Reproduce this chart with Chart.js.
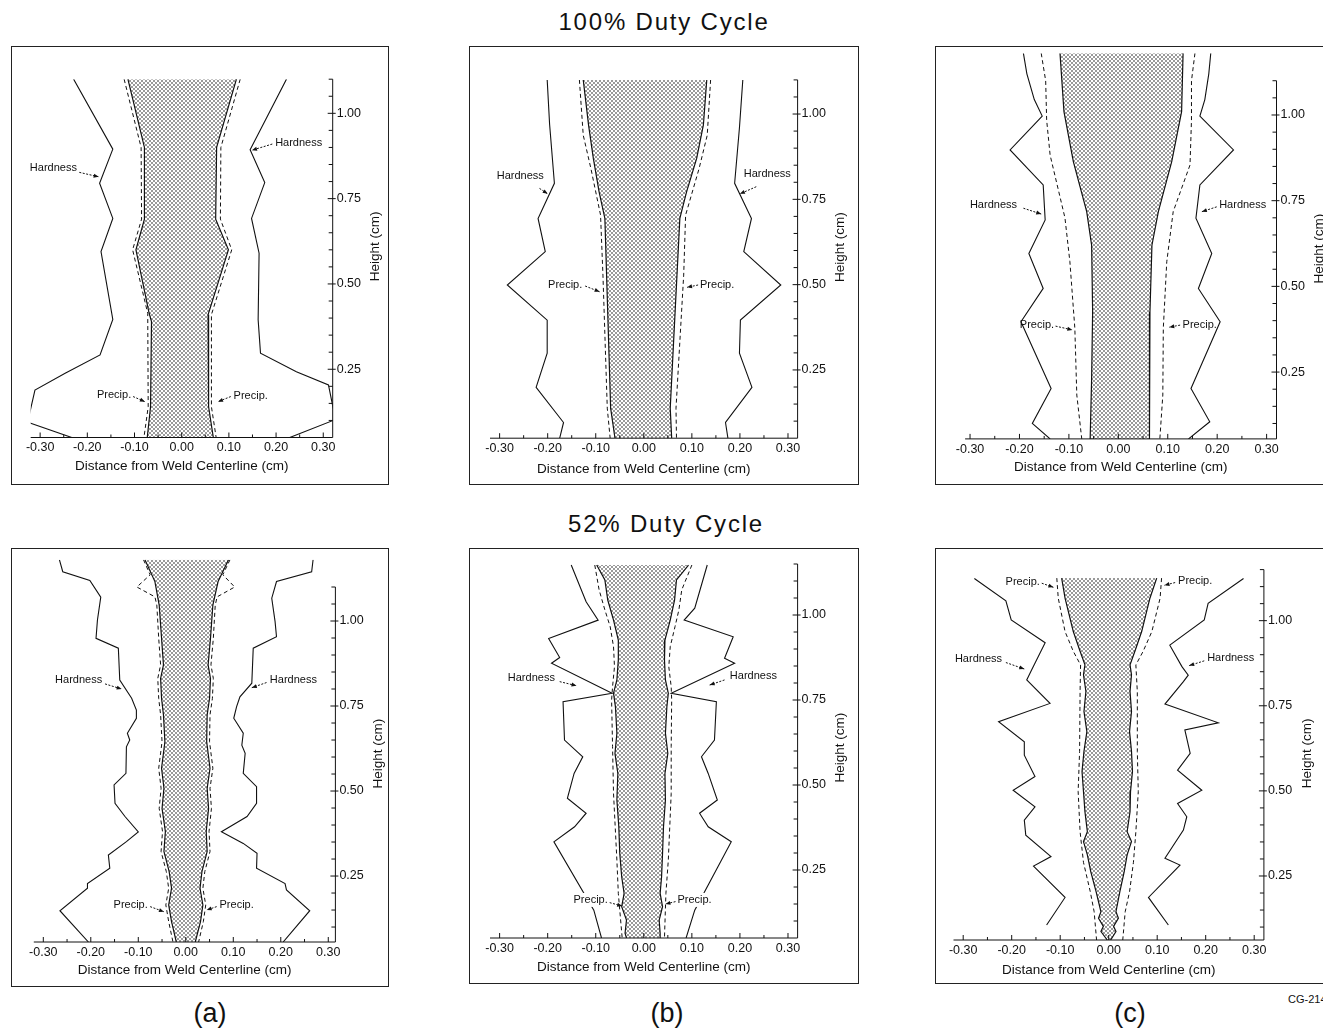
<!DOCTYPE html>
<html>
<head>
<meta charset="utf-8">
<script src="https://cdn.jsdelivr.net/npm/chart.js"></script>
<style>
html,body{margin:0;padding:0;background:#fff;}
body{width:1323px;height:1036px;position:relative;overflow:hidden;font-family:"Liberation Sans",Arial,sans-serif;color:#111;}
.box{position:absolute;border:1px solid #222;box-sizing:border-box;}
.plot{position:absolute;}
.txt{position:absolute;white-space:nowrap;transform:translate(-50%,-50%);}
</style>
</head>
<body>
<div class="txt" style="left:664px;top:22px;font-size:24px;letter-spacing:1.8px">100% Duty Cycle</div>
<div class="txt" style="left:666px;top:524px;font-size:24px;letter-spacing:1.8px">52% Duty Cycle</div>
<div class="txt" style="left:210px;top:1013px;font-size:27px">(a)</div>
<div class="txt" style="left:667px;top:1013px;font-size:27px">(b)</div>
<div class="txt" style="left:1130px;top:1013px;font-size:27px">(c)</div>
<div style="position:absolute;left:1288px;top:993px;font-size:11px;white-space:nowrap">CG-2140</div>

<script>
// ==== tick labels ====
const xTickVals = [-0.30, -0.20, -0.10, 0.00, 0.10, 0.20, 0.30];
const yTickVals = [0.25, 0.50, 0.75, 1.00];

// ==== data: [distance from centerline (cm), height (cm)] ====
// (a) 100% duty cycle
const aTopHardL = [[-0.229,1.10],[-0.146,0.895],[-0.174,0.795],[-0.146,0.692],[-0.171,0.595],[-0.146,0.396],[-0.173,0.292],[-0.247,0.238],[-0.311,0.189],[-0.323,0.116],[-0.345,0.104],[-0.320,0.092],[-0.233,0.05]];
const aTopHardR = [[0.222,1.10],[0.145,0.893],[0.176,0.797],[0.148,0.692],[0.164,0.590],[0.162,0.395],[0.167,0.297],[0.243,0.243],[0.311,0.204],[0.321,0.136],[0.340,0.118],[0.321,0.100],[0.229,0.05]];
const aTopFusL = [[-0.114,1.10],[-0.079,0.90],[-0.079,0.69],[-0.097,0.60],[-0.069,0.414],[-0.064,0.39],[-0.066,0.14],[-0.073,0.05]];
const aTopFusR = [[0.116,1.10],[0.074,0.90],[0.072,0.69],[0.099,0.60],[0.056,0.41],[0.057,0.14],[0.067,0.05]];
const aTopPrecL = [[-0.122,1.10],[-0.086,0.90],[-0.085,0.69],[-0.104,0.60],[-0.072,0.414],[-0.071,0.14],[-0.080,0.05]];
const aTopPrecR = [[0.124,1.10],[0.083,0.90],[0.082,0.69],[0.106,0.60],[0.063,0.41],[0.063,0.14],[0.073,0.05]];

// (b) 100% duty cycle
const bTopHardL = [[-0.201,1.10],[-0.196,0.97],[-0.186,0.797],[-0.220,0.694],[-0.205,0.597],[-0.284,0.499],[-0.201,0.396],[-0.201,0.299],[-0.224,0.199],[-0.167,0.096],[-0.175,0.05]];
const bTopHardR = [[0.206,1.10],[0.199,0.96],[0.189,0.797],[0.224,0.694],[0.208,0.597],[0.285,0.499],[0.201,0.396],[0.199,0.299],[0.225,0.199],[0.170,0.096],[0.175,0.05]];
const bTopFusL = [[-0.126,1.10],[-0.115,0.968],[-0.105,0.87],[-0.093,0.772],[-0.081,0.694],[-0.069,0.138],[-0.060,0.05]];
const bTopFusR = [[0.131,1.10],[0.124,0.968],[0.110,0.87],[0.089,0.772],[0.075,0.694],[0.055,0.138],[0.058,0.05]];
const bTopPrecL = [[-0.134,1.10],[-0.126,0.938],[-0.110,0.84],[-0.090,0.704],[-0.085,0.528],[-0.076,0.138],[-0.070,0.05]];
const bTopPrecR = [[0.139,1.10],[0.132,0.938],[0.115,0.84],[0.087,0.704],[0.083,0.528],[0.067,0.138],[0.068,0.05]];

// (c) 100% duty cycle
const cTopHardL = [[-0.192,1.18],[-0.185,1.12],[-0.170,1.045],[-0.154,0.997],[-0.219,0.898],[-0.152,0.796],[-0.148,0.694],[-0.181,0.596],[-0.152,0.494],[-0.197,0.397],[-0.136,0.202],[-0.174,0.100],[-0.138,0.055]];
const cTopHardR = [[0.187,1.18],[0.183,1.12],[0.175,1.045],[0.165,0.997],[0.233,0.898],[0.165,0.796],[0.157,0.699],[0.189,0.596],[0.162,0.494],[0.206,0.397],[0.147,0.202],[0.185,0.105],[0.142,0.055]];
const cTopFusL = [[-0.118,1.18],[-0.110,1.01],[-0.091,0.864],[-0.064,0.718],[-0.054,0.62],[-0.052,0.426],[-0.054,0.232],[-0.057,0.055]];
const cTopFusR = [[0.131,1.18],[0.128,1.01],[0.108,0.864],[0.081,0.718],[0.068,0.62],[0.064,0.426],[0.063,0.232],[0.063,0.055]];
const cTopPrecL = [[-0.156,1.18],[-0.147,1.10],[-0.145,0.985],[-0.138,0.883],[-0.108,0.70],[-0.098,0.572],[-0.088,0.378],[-0.084,0.183],[-0.074,0.055]];
const cTopPrecR = [[0.155,1.18],[0.148,1.10],[0.148,0.985],[0.145,0.854],[0.111,0.718],[0.098,0.572],[0.091,0.378],[0.090,0.183],[0.084,0.055]];

// (a) 52% duty cycle
const aBotHardL = [[-0.266,1.18],[-0.259,1.145],[-0.202,1.119],[-0.179,1.070],[-0.186,1.003],[-0.189,0.949],[-0.142,0.920],[-0.139,0.826],[-0.114,0.773],[-0.104,0.738],[-0.104,0.714],[-0.123,0.670],[-0.118,0.650],[-0.125,0.630],[-0.126,0.552],[-0.151,0.518],[-0.149,0.464],[-0.128,0.425],[-0.100,0.380],[-0.125,0.351],[-0.163,0.312],[-0.160,0.273],[-0.207,0.228],[-0.207,0.214],[-0.265,0.148],[-0.205,0.056]];
const aBotHardR = [[0.268,1.18],[0.265,1.145],[0.191,1.116],[0.181,1.067],[0.188,0.998],[0.191,0.954],[0.142,0.920],[0.139,0.817],[0.114,0.777],[0.107,0.748],[0.101,0.714],[0.121,0.670],[0.118,0.635],[0.125,0.611],[0.121,0.552],[0.149,0.513],[0.149,0.464],[0.129,0.425],[0.075,0.380],[0.121,0.346],[0.150,0.317],[0.149,0.273],[0.209,0.228],[0.212,0.209],[0.261,0.148],[0.205,0.056]];
const aBotFusL = [[-0.086,1.18],[-0.065,1.116],[-0.056,1.047],[-0.051,0.949],[-0.047,0.871],[-0.053,0.831],[-0.051,0.772],[-0.047,0.724],[-0.044,0.645],[-0.051,0.567],[-0.046,0.508],[-0.050,0.449],[-0.043,0.381],[-0.046,0.322],[-0.035,0.263],[-0.030,0.214],[-0.036,0.165],[-0.030,0.116],[-0.020,0.056]];
const aBotFusR = [[0.090,1.18],[0.068,1.116],[0.057,1.047],[0.052,0.949],[0.047,0.871],[0.052,0.831],[0.050,0.772],[0.045,0.724],[0.044,0.645],[0.051,0.567],[0.045,0.508],[0.048,0.449],[0.043,0.381],[0.045,0.322],[0.034,0.263],[0.030,0.214],[0.036,0.165],[0.031,0.116],[0.020,0.056]];
const aBotPrecL = [[-0.089,1.18],[-0.075,1.136],[-0.103,1.100],[-0.065,1.071],[-0.061,1.047],[-0.057,0.949],[-0.053,0.871],[-0.059,0.831],[-0.057,0.772],[-0.053,0.724],[-0.050,0.645],[-0.057,0.567],[-0.052,0.508],[-0.056,0.449],[-0.049,0.381],[-0.052,0.322],[-0.041,0.263],[-0.036,0.214],[-0.042,0.165],[-0.036,0.116],[-0.027,0.056]];
const aBotPrecR = [[0.093,1.18],[0.078,1.136],[0.103,1.100],[0.066,1.071],[0.062,1.047],[0.058,0.949],[0.053,0.871],[0.058,0.831],[0.056,0.772],[0.051,0.724],[0.050,0.645],[0.057,0.567],[0.051,0.508],[0.054,0.449],[0.049,0.381],[0.051,0.322],[0.040,0.263],[0.036,0.214],[0.042,0.165],[0.037,0.116],[0.027,0.056]];

// (b) 52% duty cycle
const bBotHardL = [[-0.151,1.147],[-0.120,1.039],[-0.095,0.985],[-0.198,0.931],[-0.175,0.875],[-0.192,0.858],[-0.066,0.770],[-0.168,0.745],[-0.165,0.632],[-0.127,0.583],[-0.145,0.534],[-0.159,0.461],[-0.120,0.417],[-0.144,0.377],[-0.187,0.333],[-0.104,0.132],[-0.088,0.05]];
const bBotHardR = [[0.132,1.147],[0.106,1.020],[0.084,0.985],[0.186,0.936],[0.168,0.873],[0.189,0.858],[0.057,0.770],[0.151,0.745],[0.147,0.632],[0.120,0.583],[0.134,0.534],[0.153,0.456],[0.116,0.417],[0.134,0.377],[0.182,0.333],[0.106,0.132],[0.088,0.05]];
const bBotFusL = [[-0.098,1.147],[-0.081,1.103],[-0.075,1.044],[-0.063,0.985],[-0.053,0.926],[-0.053,0.868],[-0.056,0.809],[-0.063,0.770],[-0.059,0.730],[-0.056,0.652],[-0.060,0.593],[-0.054,0.534],[-0.056,0.456],[-0.052,0.377],[-0.050,0.299],[-0.046,0.230],[-0.041,0.181],[-0.046,0.142],[-0.036,0.103],[-0.039,0.064],[-0.036,0.05]];
const bBotFusR = [[0.093,1.147],[0.068,1.103],[0.064,1.044],[0.055,0.985],[0.044,0.926],[0.043,0.868],[0.045,0.809],[0.051,0.770],[0.048,0.730],[0.045,0.652],[0.050,0.593],[0.044,0.534],[0.045,0.456],[0.041,0.377],[0.039,0.299],[0.037,0.230],[0.034,0.181],[0.039,0.142],[0.032,0.103],[0.034,0.064],[0.034,0.05]];
const bBotPrecL = [[-0.102,1.147],[-0.093,1.074],[-0.081,1.015],[-0.070,0.966],[-0.063,0.907],[-0.061,0.848],[-0.065,0.789],[-0.067,0.750],[-0.065,0.613],[-0.063,0.475],[-0.056,0.279],[-0.053,0.181],[-0.045,0.05]];
const bBotPrecR = [[0.100,1.147],[0.079,1.074],[0.073,1.015],[0.065,0.966],[0.055,0.907],[0.052,0.848],[0.057,0.789],[0.058,0.750],[0.057,0.613],[0.057,0.475],[0.051,0.279],[0.046,0.181],[0.043,0.05]];

// (c) 52% duty cycle
const cBotHardL = [[-0.277,1.124],[-0.212,1.058],[-0.201,1.002],[-0.131,0.935],[-0.159,0.855],[-0.169,0.826],[-0.121,0.757],[-0.227,0.703],[-0.174,0.644],[-0.174,0.605],[-0.152,0.542],[-0.197,0.502],[-0.152,0.453],[-0.174,0.414],[-0.171,0.370],[-0.119,0.307],[-0.155,0.279],[-0.090,0.187],[-0.128,0.106]];
const cBotHardR = [[0.278,1.124],[0.205,1.051],[0.197,1.002],[0.126,0.928],[0.151,0.865],[0.164,0.840],[0.154,0.821],[0.116,0.755],[0.226,0.700],[0.157,0.679],[0.168,0.610],[0.142,0.561],[0.192,0.502],[0.142,0.463],[0.161,0.424],[0.154,0.385],[0.116,0.302],[0.147,0.282],[0.082,0.187],[0.123,0.106]];
const cBotFusL = [[-0.097,1.125],[-0.090,1.066],[-0.073,0.968],[-0.059,0.910],[-0.049,0.870],[-0.052,0.841],[-0.047,0.792],[-0.051,0.733],[-0.045,0.674],[-0.051,0.616],[-0.055,0.557],[-0.052,0.498],[-0.049,0.439],[-0.044,0.380],[-0.052,0.351],[-0.044,0.312],[-0.037,0.263],[-0.026,0.204],[-0.016,0.145],[-0.021,0.126],[-0.011,0.102],[-0.016,0.087],[-0.003,0.062]];
const cBotFusR = [[0.099,1.125],[0.085,1.066],[0.068,0.968],[0.054,0.910],[0.044,0.870],[0.047,0.841],[0.044,0.792],[0.047,0.733],[0.043,0.674],[0.047,0.616],[0.049,0.557],[0.045,0.498],[0.044,0.439],[0.038,0.380],[0.047,0.351],[0.038,0.312],[0.032,0.263],[0.023,0.204],[0.015,0.145],[0.020,0.126],[0.010,0.102],[0.015,0.087],[0.004,0.062]];
const cBotPrecL = [[-0.107,1.125],[-0.104,1.066],[-0.090,0.968],[-0.073,0.910],[-0.058,0.870],[-0.059,0.792],[-0.060,0.616],[-0.063,0.498],[-0.059,0.380],[-0.052,0.290],[-0.038,0.204],[-0.030,0.145],[-0.025,0.062]];
const cBotPrecR = [[0.109,1.125],[0.106,1.066],[0.089,0.968],[0.071,0.910],[0.056,0.870],[0.059,0.792],[0.059,0.616],[0.061,0.498],[0.056,0.380],[0.051,0.290],[0.043,0.204],[0.034,0.145],[0.029,0.062]];

// ==== callouts: text anchor + arrow (tail x,y, head x,y) in data units ====
const aTopNotes = [
  {t:'Hardness', at:[-0.222,0.839], al:'right', a:[-0.217,0.827,-0.176,0.814]},
  {t:'Hardness', at:[0.198,0.913], al:'left', a:[0.192,0.910,0.149,0.892]},
  {t:'Precip.', at:[-0.107,0.175], al:'right', a:[-0.103,0.170,-0.078,0.155]},
  {t:'Precip.', at:[0.110,0.172], al:'left', a:[0.104,0.170,0.077,0.155]}
];
const bTopNotes = [
  {t:'Hardness', at:[-0.208,0.818], al:'right', a:[-0.217,0.782,-0.200,0.766]},
  {t:'Hardness', at:[0.208,0.824], al:'left', a:[0.234,0.787,0.200,0.766]},
  {t:'Precip.', at:[-0.128,0.499], al:'right', a:[-0.122,0.496,-0.092,0.479]},
  {t:'Precip.', at:[0.117,0.499], al:'left', a:[0.113,0.499,0.090,0.492]}
];
const cTopNotes = [
  {t:'Hardness', at:[-0.205,0.737], al:'right', a:[-0.192,0.728,-0.156,0.711]},
  {t:'Hardness', at:[0.204,0.737], al:'left', a:[0.199,0.732,0.169,0.718]},
  {t:'Precip.', at:[-0.130,0.387], al:'right', a:[-0.127,0.384,-0.093,0.373]},
  {t:'Precip.', at:[0.130,0.387], al:'left', a:[0.125,0.387,0.103,0.381]}
];
const aBotNotes = [
  {t:'Hardness', at:[-0.176,0.826], al:'right', a:[-0.170,0.815,-0.135,0.800]},
  {t:'Hardness', at:[0.177,0.826], al:'left', a:[0.170,0.819,0.139,0.804]},
  {t:'Precip.', at:[-0.080,0.165], al:'right', a:[-0.075,0.160,-0.046,0.145]},
  {t:'Precip.', at:[0.071,0.165], al:'left', a:[0.065,0.160,0.044,0.150]}
];
const bBotNotes = [
  {t:'Hardness', at:[-0.185,0.815], al:'right', a:[-0.175,0.804,-0.140,0.792]},
  {t:'Hardness', at:[0.179,0.821], al:'left', a:[0.168,0.809,0.137,0.794]},
  {t:'Precip.', at:[-0.075,0.162], al:'right', a:[-0.071,0.154,-0.045,0.144], mask:true},
  {t:'Precip.', at:[0.070,0.162], al:'left', a:[0.066,0.157,0.045,0.150], mask:true}
];
const cBotNotes = [
  {t:'Precip.', at:[-0.142,1.114], al:'right', a:[-0.138,1.110,-0.114,1.098]},
  {t:'Precip.', at:[0.143,1.117], al:'left', a:[0.137,1.112,0.115,1.104]},
  {t:'Hardness', at:[-0.220,0.887], al:'right', a:[-0.212,0.877,-0.174,0.858]},
  {t:'Hardness', at:[0.203,0.890], al:'left', a:[0.197,0.882,0.166,0.868]}
];

// ==== panel layout (page pixels) ====
// box = frame [left, top, width, height]; area = plot area [left, top, right, bottom]
const panels = [
  {box:[11,46,378,439], area:[30.7,79.2,332.7,437.5], xr:[-0.32,0.32], yr:[0.05,1.10], yTop:1.10, tGap:29,
   hardL:aTopHardL, hardR:aTopHardR, fusL:aTopFusL, fusR:aTopFusR, precL:aTopPrecL, precR:aTopPrecR, notes:aTopNotes},
  {box:[469,46,390,439], area:[490.0,79.9,797.6,438.2], xr:[-0.32,0.32], yr:[0.05,1.10], yTop:1.10, tGap:31,
   hardL:bTopHardL, hardR:bTopHardR, fusL:bTopFusL, fusR:bTopFusR, precL:bTopPrecL, precR:bTopPrecR, notes:bTopNotes},
  {box:[935,46,400,439], area:[965.1,53.3,1276.5,438.9], xr:[-0.31,0.32], yr:[0.055,1.18], yTop:1.10, tGap:28,
   hardL:cTopHardL, hardR:cTopHardR, fusL:cTopFusL, fusR:cTopFusR, precL:cTopPrecL, precR:cTopPrecR, notes:cTopNotes},
  {box:[11,548,378,439], area:[33.8,559.8,335.4,942.0], xr:[-0.32,0.315], yr:[0.056,1.18], yTop:1.10, tGap:28,
   hardL:aBotHardL, hardR:aBotHardR, fusL:aBotFusL, fusR:aBotFusR, precL:aBotPrecL, precR:aBotPrecR, notes:aBotNotes},
  {box:[469,548,390,436], area:[490.0,564.0,797.6,938.0], xr:[-0.32,0.32], yr:[0.05,1.15], yTop:1.15, tGap:29,
   hardL:bBotHardL, hardR:bBotHardR, fusL:bBotFusL, fusR:bBotFusR, precL:bBotPrecL, precR:bBotPrecR, notes:bBotNotes},
  {box:[935,548,400,436], area:[953.5,569.6,1263.9,940.0], xr:[-0.32,0.32], yr:[0.062,1.15], yTop:1.15, tGap:30,
   hardL:cBotHardL, hardR:cBotHardR, fusL:cBotFusL, fusR:cBotFusR, precL:cBotPrecL, precR:cBotPrecR, notes:cBotNotes}
];

const FONT = '"Liberation Sans", Arial, Helvetica, sans-serif';
Chart.defaults.font.family = FONT;
Chart.defaults.color = '#111';
const WY = 30; // right axis box width

// stipple pattern for the fusion zone
function dots(){
  const c = document.createElement('canvas');
  c.width = 4; c.height = 4;
  const g = c.getContext('2d');
  g.fillStyle = '#fff'; g.fillRect(0,0,4,4);
  g.fillStyle = '#1a1a1a';
  g.beginPath(); g.arc(1,1,0.8,0,Math.PI*2); g.fill();
  g.beginPath(); g.arc(3,3,0.8,0,Math.PI*2); g.fill();
  return g.createPattern(c,'repeat');
}
const stipple = dots();

const pts = a => a.map(([x,y]) => ({x, y}));
function curve(arr, w, dash){
  return {data: pts(arr), borderColor:'#111', borderWidth:w, borderDash:dash||[], pointRadius:0, fill:false, tension:0};
}

// axis lines, inward ticks, y title, callouts
const weldAxes = {
  id: 'weldAxes',
  afterDraw(chart){
    const p = chart.options.plugins.weldAxes;
    const {ctx} = chart;
    const xs = chart.scales.x, ys = chart.scales.y;
    const x0 = xs.getPixelForValue(p.xr[0]), x1 = xs.getPixelForValue(p.xr[1]);
    const yb = ys.getPixelForValue(p.yr[0]), yt = ys.getPixelForValue(p.yTop);
    ctx.save();
    ctx.strokeStyle = '#111'; ctx.lineWidth = 1;
    ctx.beginPath();
    ctx.moveTo(x0, yb); ctx.lineTo(x1, yb);
    ctx.moveTo(x1, yb); ctx.lineTo(x1, yt);
    for(let i=-6;i<=6;i++){
      const px = xs.getPixelForValue(i*0.05);
      ctx.moveTo(px, yb); ctx.lineTo(px, yb - (i%2===0 ? 5 : 3));
    }
    for(let i=1; i*0.05 <= p.yTop+1e-6; i++){
      const v = i*0.05;
      if(v <= p.yr[0]+1e-6) continue;
      const py = ys.getPixelForValue(v);
      const major = i%5===0;
      ctx.moveTo(x1 - (major?5:4), py); ctx.lineTo(x1 + (major?3:0), py);
    }
    ctx.stroke();

    // y axis title, reads bottom to top
    ctx.save();
    ctx.translate(x1 + 43, ys.getPixelForValue(0.61));
    ctx.rotate(-Math.PI/2);
    ctx.font = '13.5px ' + FONT; ctx.fillStyle = '#111';
    ctx.textAlign = 'center'; ctx.textBaseline = 'middle';
    ctx.fillText('Height (cm)', 0, 0);
    ctx.restore();

    // callouts
    ctx.font = '11px ' + FONT; ctx.textBaseline = 'middle';
    p.notes.forEach(n => {
      const tx = xs.getPixelForValue(n.at[0]), ty = ys.getPixelForValue(n.at[1]);
      ctx.textAlign = n.al;
      if(n.mask){
        const w = ctx.measureText(n.t).width;
        ctx.fillStyle = '#fff';
        ctx.fillRect(n.al==='right' ? tx-w-1 : tx-1, ty-7, w+2, 14);
      }
      ctx.fillStyle = '#111';
      ctx.fillText(n.t, tx, ty);
      const ax = xs.getPixelForValue(n.a[0]), ay = ys.getPixelForValue(n.a[1]);
      const bx = xs.getPixelForValue(n.a[2]), by = ys.getPixelForValue(n.a[3]);
      ctx.beginPath(); ctx.setLineDash([2,1.5]);
      ctx.moveTo(ax, ay); ctx.lineTo(bx, by); ctx.stroke();
      ctx.setLineDash([]);
      const ang = Math.atan2(by-ay, bx-ax), L = 5, H = 2;
      ctx.beginPath();
      ctx.moveTo(bx, by);
      ctx.lineTo(bx - L*Math.cos(ang) + H*Math.sin(ang), by - L*Math.sin(ang) - H*Math.cos(ang));
      ctx.lineTo(bx - L*Math.cos(ang) - H*Math.sin(ang), by - L*Math.sin(ang) + H*Math.cos(ang));
      ctx.closePath(); ctx.fill();
    });
    ctx.restore();
  }
};

panels.forEach(p => {
  const [L,T,W,H] = p.box;
  const frame = document.createElement('div');
  frame.className = 'box';
  Object.assign(frame.style, {left:L+'px', top:T+'px', width:W+'px', height:H+'px'});
  document.body.appendChild(frame);

  const cv = document.createElement('canvas');
  cv.className = 'plot';
  cv.width = W; cv.height = H;
  Object.assign(cv.style, {left:L+'px', top:T+'px', width:W+'px', height:H+'px'});
  document.body.appendChild(cv);

  const [cl,ct,cr,cb] = p.area;
  const HX = p.tGap + 8.1;
  const pad = {left: cl-L, top: ct-T, right: L+W-cr-WY, bottom: T+H-cb-HX};

  new Chart(cv, {
    type: 'line',
    data: {
      datasets: [
        curve(p.hardL, 1.1), curve(p.hardR, 1.1),
        curve(p.fusL, 1.2), curve(p.fusR, 1.2),
        curve(p.precL, 1, [4,3]), curve(p.precR, 1, [4,3]),
        {data: pts([...p.fusL].reverse().concat(p.fusR)), borderWidth:0, borderColor:'rgba(0,0,0,0)',
         backgroundColor: stipple, pointRadius:0, fill:'shape', tension:0}
      ]
    },
    options: {
      responsive:false, maintainAspectRatio:false, animation:false, events:[],
      layout:{padding:pad},
      plugins:{legend:{display:false}, tooltip:{enabled:false},
        weldAxes:{xr:p.xr, yr:p.yr, yTop:p.yTop, notes:p.notes}},
      scales:{
        x:{type:'linear', position:'bottom', min:p.xr[0], max:p.xr[1],
          grid:{display:false, drawTicks:false}, border:{display:false},
          afterBuildTicks: s => { s.ticks = xTickVals.map(v => ({value:v})); },
          ticks:{autoSkip:false, maxRotation:0, minRotation:0, padding:3, font:{size:12.5}, color:'#111',
            callback: v => v.toFixed(2)},
          title:{display:true, text:'Distance from Weld Centerline (cm)', font:{size:13.5}, color:'#111', padding:0},
          afterFit: s => { s.height = HX; s.paddingLeft = 0; s.paddingRight = 0; }
        },
        y:{type:'linear', position:'right', min:p.yr[0], max:p.yr[1],
          grid:{display:false, drawTicks:false}, border:{display:false},
          afterBuildTicks: s => { s.ticks = yTickVals.map(v => ({value:v})); },
          ticks:{autoSkip:false, padding:4, font:{size:12.5}, color:'#111', callback: v => v.toFixed(2)},
          afterFit: s => { s.width = WY; s.paddingTop = 0; s.paddingBottom = 0; }
        }
      }
    },
    plugins:[weldAxes]
  });
});
</script>
</body>
</html>
